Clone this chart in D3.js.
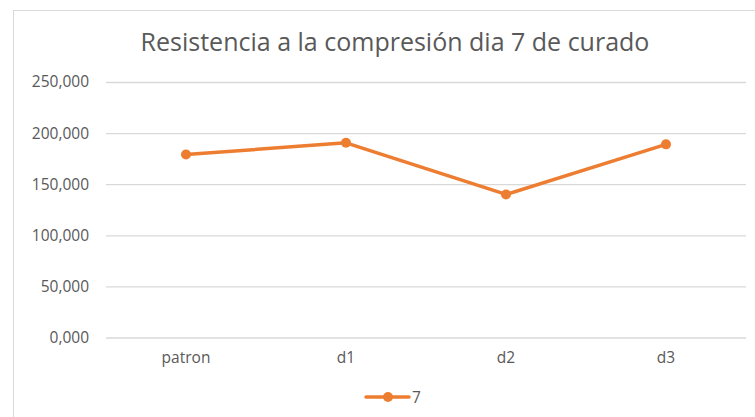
<!DOCTYPE html>
<html><head><meta charset="utf-8">
<script src="https://cdn.jsdelivr.net/npm/d3@7"></script>
<style>body{margin:0;background:#fff;}svg{display:block;}</style>
</head><body>
<script>
const categories = ["patron", "d1", "d2", "d3"];
const values = [179, 190.5, 140, 189];
const yTicks = [0, 50, 100, 150, 200, 250];
const seriesName = "7";
const title = "Resistencia a la compresión dia 7 de curado";

const W = 755, H = 417;
const svg = d3.select("body").append("svg").attr("width", W).attr("height", H);
const font = "'Open Sans', 'Noto Sans', sans-serif";
const color = "#ED7D31";

svg.append("rect").attr("x", 13.5).attr("y", 10.5).attr("width", W + 10).attr("height", H + 10)
  .attr("fill", "#fff").attr("stroke", "#d9d9d9").attr("stroke-width", 1);

const x = d3.scaleBand().domain(categories).range([106, 746]);
const y = d3.scaleLinear().domain([0, 250]).range([337.5, 82]);

const yAxis = svg.append("g").attr("transform", "translate(106,0)")
  .call(d3.axisLeft(y).tickValues(yTicks).tickSize(-640).tickFormat(v => v === 0 ? "0,000" : d3.format(",.0f")(v) + ",000"));
yAxis.select(".domain").remove();
yAxis.selectAll(".tick line").attr("stroke", "#d9d9d9").attr("stroke-width", 1.3);
yAxis.selectAll(".tick text").attr("x", -17).attr("fill", "#595959")
  .style("font-family", font).style("font-size", "15.5px");

const xAxis = svg.append("g").attr("transform", "translate(0,337.5)")
  .call(d3.axisBottom(x).tickSize(0).tickPadding(14));
xAxis.select(".domain").remove();
xAxis.selectAll(".tick text").attr("fill", "#595959")
  .style("font-family", font).style("font-size", "15.5px");

const cx = d => x(d) + x.bandwidth() / 2;
const line = d3.line().x((d, i) => cx(categories[i])).y(d => y(d));
svg.append("path").datum(values).attr("d", line).attr("fill", "none")
  .attr("stroke", color).attr("stroke-width", 3.5).attr("stroke-linejoin", "round");
svg.selectAll("circle.pt").data(values).enter().append("circle").attr("class", "pt")
  .attr("cx", (d, i) => cx(categories[i])).attr("cy", d => y(d)).attr("r", 5).attr("fill", color);

svg.append("text").attr("x", 395).attr("y", 51).attr("text-anchor", "middle")
  .attr("fill", "#595959").style("font-family", font).style("font-size", "25px").text(title);

const lg = svg.append("g");
lg.append("line").attr("x1", 366).attr("x2", 409).attr("y1", 397).attr("y2", 397)
  .attr("stroke", color).attr("stroke-width", 3.5).attr("stroke-linecap", "round");
lg.append("circle").attr("cx", 388).attr("cy", 397).attr("r", 5).attr("fill", color);
lg.append("text").attr("x", 412).attr("y", 403).attr("fill", "#595959")
  .style("font-family", font).style("font-size", "15.5px").text(seriesName);
</script>
</body></html>
